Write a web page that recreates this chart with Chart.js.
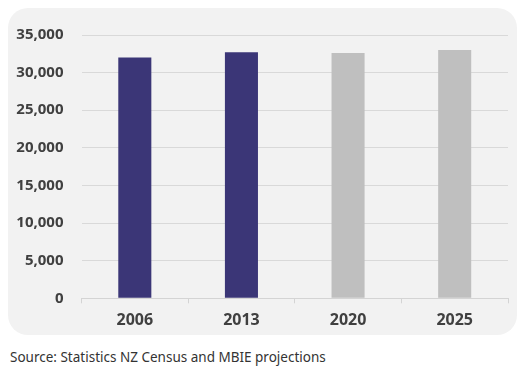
<!DOCTYPE html>
<html>
<head>
<meta charset="utf-8">
<script src="https://cdn.jsdelivr.net/npm/chart.js@4"></script>
<style>
  html, body { margin: 0; padding: 0; background: #fff; }
  body { width: 528px; height: 369px; position: relative; overflow: hidden; font-family: "Noto Sans", "Open Sans", sans-serif; }
  #panel { position: absolute; left: 8px; top: 8px; width: 509px; height: 327px; background: #f2f2f2; border-radius: 20px; }
  #chart { position: absolute; left: 0; top: 0; }
  #source { position: absolute; left: 10px; top: 348px; font-size: 13.5px; color: #333; white-space: nowrap; }
</style>
</head>
<body>
<div id="panel"><canvas id="chart" width="509" height="327"></canvas></div>
<div id="source">Source: Statistics NZ Census and MBIE projections</div>
<script>
// données
const years = ['2006', '2013', '2020', '2025'];
const population = [32000, 32700, 32600, 33000];
const isProjection = [false, false, true, true];
const yTicks = [0, 5000, 10000, 15000, 20000, 25000, 30000, 35000];

const barColors = isProjection.map(p => (p ? '#bfbfbf' : '#3b3677'));

new Chart(document.getElementById('chart').getContext('2d'), {
  type: 'bar',
  data: {
    labels: years,
    datasets: [
      {
        data: population,
        backgroundColor: barColors,
        barPercentage: 0.31,
        categoryPercentage: 1,
      },
    ],
  },
  options: {
    responsive: false,
    animation: false,
    layout: { padding: { top: 20, right: 9, left: 0, bottom: 0 } },
    plugins: {
      legend: { display: false },
      tooltip: { enabled: false },
    },
    scales: {
      x: {
        offset: true,
        grid: { offset: true, drawOnChartArea: false, drawTicks: true, tickLength: 5, color: '#d4d4d4' },
        border: { display: true, color: '#d4d4d4' },
        ticks: { color: '#404040', padding: 8, font: { family: 'Noto Sans', size: 16, weight: 'bold' } },
        afterFit: (scale) => { scale.height = 36.7; },
      },
      y: {
        min: 0,
        max: 35000,
        afterBuildTicks: (scale) => { scale.ticks = yTicks.map(v => ({ value: v })); },
        grid: { color: '#d9d9d9', drawTicks: false },
        border: { display: false },
        ticks: {
          color: '#404040',
          padding: 18,
          font: { family: 'Noto Sans', size: 15, weight: 'bold' },
          callback: (v) => v.toLocaleString('en-US'),
        },
        afterFit: (scale) => { scale.width = 73.5; },
      },
    },
  },
});
</script>
</body>
</html>
